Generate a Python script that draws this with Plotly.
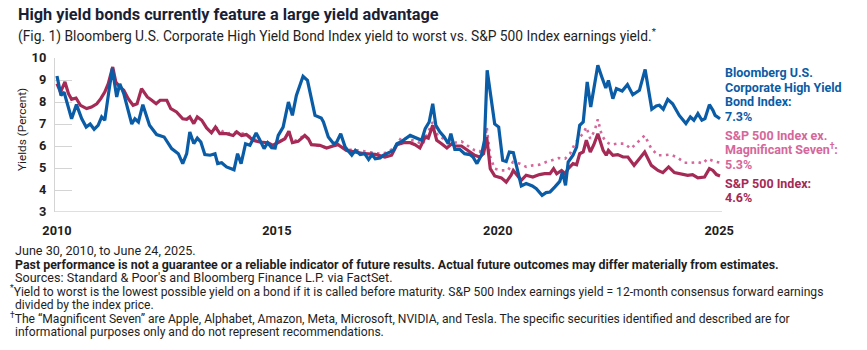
import pandas as pd
import plotly.graph_objects as go

# ---------------- data (decimal years, percent) ----------------
hy_t = [2010.50, 2010.59, 2010.66, 2010.76, 2010.83, 2010.94, 2011.06, 2011.16, 2011.25, 2011.34,
        2011.43, 2011.51, 2011.58, 2011.66, 2011.75, 2011.85, 2011.92, 2012.01, 2012.19, 2012.26,
        2012.34, 2012.44, 2012.59, 2012.75, 2012.92, 2013.09, 2013.24, 2013.34, 2013.43, 2013.50,
        2013.59, 2013.67, 2013.75, 2013.84, 2013.96, 2014.07, 2014.13, 2014.22, 2014.33, 2014.50,
        2014.58, 2014.66, 2014.76, 2014.86, 2015.00, 2015.07, 2015.18, 2015.26, 2015.35, 2015.43,
        2015.50, 2015.61, 2015.73, 2015.82, 2015.91, 2016.06, 2016.16, 2016.33, 2016.47, 2016.52,
        2016.63, 2016.75, 2016.82, 2016.91, 2017.01, 2017.16, 2017.24, 2017.35, 2017.45, 2017.54,
        2017.62, 2017.69, 2017.80, 2017.87, 2017.99, 2018.10, 2018.18, 2018.29, 2018.48, 2018.55,
        2018.66, 2018.74, 2018.82, 2018.91, 2018.99, 2019.06, 2019.15, 2019.25, 2019.34, 2019.40,
        2019.49, 2019.60, 2019.71, 2019.83, 2019.90, 2019.99, 2020.09, 2020.16, 2020.22, 2020.31,
        2020.39, 2020.48, 2020.57, 2020.65, 2020.72, 2020.81, 2020.90, 2020.99, 2021.10, 2021.24,
        2021.33, 2021.46, 2021.55, 2021.64, 2021.75, 2021.86, 2021.92, 2021.99, 2022.05, 2022.16,
        2022.24, 2022.31, 2022.39, 2022.48, 2022.56, 2022.63, 2022.72, 2022.81, 2022.90, 2022.96,
        2023.06, 2023.14, 2023.27, 2023.39, 2023.51, 2023.66, 2023.79, 2023.94, 2024.04, 2024.11,
        2024.20, 2024.30, 2024.41, 2024.56, 2024.71, 2024.81, 2024.89, 2024.98, 2025.07, 2025.14,
        2025.24, 2025.32, 2025.37, 2025.48]
hy_v = [9.18, 8.30, 8.45, 7.77, 7.24, 7.88, 7.24, 6.86, 7.00, 6.76,
        6.94, 7.32, 7.17, 8.30, 9.52, 8.23, 8.83, 8.38, 7.00, 7.24,
        7.09, 7.88, 6.94, 6.52, 6.41, 5.88, 5.65, 5.20, 5.65, 6.64,
        6.11, 6.36, 6.18, 5.61, 5.58, 5.65, 5.20, 5.24, 5.05, 4.92,
        5.65, 5.20, 6.10, 6.03, 6.59, 6.33, 5.88, 6.15, 5.92, 5.91,
        6.48, 6.86, 8.00, 7.39, 8.30, 9.17, 8.98, 7.39, 7.27, 7.09,
        6.41, 6.10, 6.18, 6.56, 5.95, 5.58, 5.80, 5.61, 5.65, 5.39,
        5.61, 5.42, 5.45, 5.58, 5.70, 5.80, 6.10, 6.21, 6.48, 6.41,
        6.30, 6.26, 6.79, 7.09, 7.92, 6.94, 6.64, 6.41, 6.10, 6.56,
        5.85, 5.85, 5.65, 5.61, 5.50, 5.20, 5.58, 6.26, 9.44, 8.15,
        7.00, 6.86, 5.35, 5.30, 5.73, 5.70, 4.89, 4.18, 4.29, 4.18,
        4.06, 3.76, 3.88, 3.91, 4.14, 4.39, 4.82, 4.21, 5.27, 5.58,
        5.95, 6.94, 7.09, 8.91, 7.77, 8.68, 9.67, 9.14, 8.64, 8.98,
        8.15, 8.61, 8.50, 8.79, 8.33, 8.53, 9.48, 7.67, 7.82, 7.85,
        7.67, 8.12, 7.92, 7.39, 7.02, 7.32, 7.17, 7.47, 7.17, 7.24,
        7.88, 7.62, 7.39, 7.24]

sp_t = [2010.50, 2010.58, 2010.68, 2010.76, 2010.83, 2010.93, 2011.03, 2011.17, 2011.28, 2011.40,
        2011.49, 2011.58, 2011.66, 2011.76, 2011.83, 2011.92, 2012.01, 2012.11, 2012.22, 2012.31,
        2012.41, 2012.54, 2012.64, 2012.74, 2012.83, 2012.98, 2013.07, 2013.20, 2013.34, 2013.43,
        2013.50, 2013.59, 2013.67, 2013.77, 2013.88, 2013.99, 2014.08, 2014.18, 2014.33, 2014.48,
        2014.56, 2014.67, 2014.78, 2014.93, 2015.08, 2015.27, 2015.38, 2015.57, 2015.65, 2015.74,
        2015.82, 2015.95, 2016.10, 2016.18, 2016.25, 2016.44, 2016.59, 2016.74, 2016.85, 2017.04,
        2017.23, 2017.45, 2017.69, 2017.91, 2018.06, 2018.18, 2018.33, 2018.48, 2018.59, 2018.70,
        2018.82, 2018.89, 2018.99, 2019.08, 2019.19, 2019.31, 2019.42, 2019.49, 2019.64, 2019.79,
        2019.94, 2020.05, 2020.14, 2020.21, 2020.29, 2020.39, 2020.54, 2020.65, 2020.76, 2020.81,
        2020.89, 2020.99, 2021.10, 2021.25, 2021.40, 2021.52, 2021.64, 2021.72, 2021.79, 2021.90,
        2021.98, 2022.05, 2022.16, 2022.24, 2022.31, 2022.39, 2022.46, 2022.55, 2022.63, 2022.72,
        2022.84, 2022.91, 2022.96, 2023.06, 2023.17, 2023.29, 2023.40, 2023.54, 2023.66, 2023.78,
        2023.93, 2024.08, 2024.19, 2024.32, 2024.45, 2024.60, 2024.75, 2024.86, 2024.98, 2025.13,
        2025.24, 2025.32, 2025.40, 2025.48]
sp_v = [8.83, 8.45, 8.91, 8.38, 8.12, 8.18, 7.85, 7.70, 7.77, 7.92,
        8.15, 8.45, 8.83, 9.59, 8.91, 8.68, 8.53, 8.15, 7.85, 7.92,
        8.61, 8.23, 8.08, 7.92, 8.08, 8.08, 7.70, 7.55, 7.24, 7.21,
        7.32, 7.02, 7.32, 7.17, 6.82, 6.60, 6.86, 6.56, 6.56, 6.48,
        6.64, 6.48, 6.52, 6.26, 6.18, 6.15, 6.03, 6.26, 6.33, 6.67,
        6.15, 6.21, 6.48, 6.33, 6.06, 6.03, 5.91, 6.00, 6.06, 5.80,
        5.73, 5.65, 5.62, 5.50, 5.58, 6.06, 6.15, 6.15, 6.06, 5.91,
        6.41, 6.36, 6.94, 6.26, 6.10, 5.91, 6.10, 6.00, 6.00, 5.80,
        5.58, 5.50, 5.65, 6.41, 4.97, 4.64, 4.55, 4.36, 4.67, 4.89,
        4.67, 4.44, 4.67, 4.59, 4.70, 4.74, 4.74, 4.97, 4.74, 4.89,
        4.74, 4.97, 5.20, 5.15, 5.65, 5.73, 6.26, 5.73, 6.06, 6.56,
        5.80, 5.58, 5.80, 5.58, 5.61, 5.50, 5.50, 5.12, 5.42, 5.73,
        5.12, 4.89, 4.79, 5.05, 4.79, 4.74, 4.67, 4.70, 4.55, 4.59,
        4.97, 4.89, 4.70, 4.64]

ex_t = [2014.08, 2014.33, 2014.56, 2014.78, 2015.08, 2015.38, 2015.65, 2015.74, 2015.82, 2016.10,
        2016.25, 2016.59, 2016.85, 2017.04, 2017.30, 2017.55, 2017.80, 2017.95, 2018.14, 2018.29,
        2018.44, 2018.63, 2018.76, 2018.85, 2018.99, 2019.10, 2019.23, 2019.38, 2019.49, 2019.64,
        2019.79, 2019.94, 2020.05, 2020.16, 2020.21, 2020.29, 2020.39, 2020.54, 2020.69, 2020.80,
        2020.95, 2021.10, 2021.25, 2021.40, 2021.55, 2021.68, 2021.83, 2021.98, 2022.09, 2022.20,
        2022.31, 2022.39, 2022.46, 2022.55, 2022.65, 2022.72, 2022.81, 2022.91, 2023.02, 2023.17,
        2023.32, 2023.47, 2023.62, 2023.78, 2023.93, 2024.08, 2024.23, 2024.35, 2024.50, 2024.68,
        2024.83, 2024.98, 2025.09, 2025.20, 2025.35, 2025.48]
ex_v = [6.86, 6.56, 6.64, 6.52, 6.18, 6.05, 6.33, 6.67, 6.17, 6.49,
        6.08, 5.93, 6.08, 5.84, 5.80, 5.74, 5.65, 5.70, 5.95, 6.41,
        6.30, 6.21, 6.06, 6.48, 7.09, 6.48, 6.33, 6.18, 6.15, 6.21,
        6.00, 5.80, 5.73, 6.03, 6.86, 5.50, 4.97, 4.89, 4.89, 5.27,
        5.20, 5.05, 5.12, 5.15, 5.27, 5.35, 5.45, 5.42, 5.65, 6.10,
        6.41, 6.56, 6.86, 6.33, 6.71, 7.21, 6.48, 6.18, 6.06, 6.11,
        6.11, 5.88, 6.18, 6.48, 5.88, 5.58, 5.58, 5.61, 5.50, 5.24,
        5.24, 5.27, 5.20, 5.42, 5.30, 5.24]

x_tick_vals = [2010.50, 2015.47, 2020.46, 2025.46]
x_tick_text = ["2010", "2015", "2020", "2025"]
y_tick_vals = [3, 4, 5, 6, 7, 8, 9, 10]

BLUE = "#0a5ca6"
RED = "#a52a56"
PINK = "#d6679a"
TXT = "#1e1e1e"


def to_date(y):
    yr = int(y)
    frac = y - yr
    start = pd.Timestamp(year=yr, month=1, day=1)
    end = pd.Timestamp(year=yr + 1, month=1, day=1)
    return start + (end - start) * frac


fig = go.Figure()
fig.add_trace(go.Scatter(x=[to_date(t) for t in ex_t], y=ex_v, mode="lines",
                         line=dict(color=PINK, width=2.6, dash="2.6px,4.4px"), hoverinfo="skip"))
fig.add_trace(go.Scatter(x=[to_date(t) for t in sp_t], y=sp_v, mode="lines",
                         line=dict(color=RED, width=3.2), hoverinfo="skip"))
fig.add_trace(go.Scatter(x=[to_date(t) for t in hy_t], y=hy_v, mode="lines",
                         line=dict(color=BLUE, width=3.2), hoverinfo="skip"))

# plot area in pixels
L, R, T, B = 55, 722, 58, 212
W, H = 867, 350


def px(x):
    return (x - L) / (R - L)


def py(y):
    return (B - y) / (B - T)


ann = []
ann.append(dict(text="<b>High yield bonds currently feature a large yield advantage</b>",
                x=px(16), y=py(15), font=dict(size=16.3, color="#1a1f36", family="Roboto")))
ann.append(dict(text="(Fig. 1) Bloomberg U.S. Corporate High Yield Bond Index yield to worst vs. S&P 500 Index earnings yield.<sup>*</sup>",
                x=px(16), y=py(35), font=dict(size=13.8, color=TXT, family="Roboto")))
ann.append(dict(text="Yields (Percent)", x=px(22), y=py(130), textangle=-90, xanchor="center",
                font=dict(size=11.8, color=TXT, family="Roboto")))

right_labels = [
    ("Bloomberg U.S.", 72, BLUE), ("Corporate High Yield", 87, BLUE), ("Bond Index:", 101, BLUE),
    ("7.3%", 116, BLUE),
    ("S&P 500 Index ex.", 135, PINK), ("Magnificant Seven<sup>†</sup>:", 149, PINK), ("5.3%", 164, PINK),
    ("S&P 500 Index:", 183, RED), ("4.6%", 197, RED),
]
for txt, yy, col in right_labels:
    ann.append(dict(text="<b>" + txt + "</b>", x=px(723), y=py(yy),
                    font=dict(size=12.5, color=col, family="Roboto")))

FOOT = "Roboto"
foot = [
    ("June 30, 2010, to June 24, 2025.", 13, 250.5, 12.6),
    ("<b>Past performance is not a guarantee or a reliable indicator of future results. Actual future outcomes may differ materially from estimates.</b>", 13, 264, 12.4),
    ("Sources: Standard & Poor's and Bloomberg Finance L.P. via FactSet.", 13, 277.5, 12.6),
    ("<sup>*</sup>Yield to worst is the lowest possible yield on a bond if it is called before maturity. S&P 500 Index earnings yield = 12-month consensus forward earnings", 8, 291, 12.1),
    ("divided by the index price.", 13, 304.5, 12.1),
    ("<sup>†</sup>The \u201cMagnificent Seven\u201d are Apple, Alphabet, Amazon, Meta, Microsoft, NVIDIA, and Tesla. The specific securities identified and described are for", 8, 318, 12.1),
    ("informational purposes only and do not represent recommendations.", 13, 331.5, 12.1),
]
for txt, xx, yy, fs in foot:
    ann.append(dict(text=txt, x=px(xx), y=py(yy), font=dict(size=fs, color=TXT, family=FOOT)))

for a in ann:
    a.setdefault("xanchor", "left")
    a.update(xref="paper", yref="paper", yanchor="middle", showarrow=False)

fig.update_layout(
    width=W, height=H,
    margin=dict(l=L, r=W - R, t=T, b=H - B, pad=0),
    paper_bgcolor="white", plot_bgcolor="white",
    showlegend=False,
    annotations=ann,
    xaxis=dict(type="date", range=[to_date(2010.455), to_date(2025.525)],
               tickvals=[to_date(t) for t in x_tick_vals], ticktext=x_tick_text,
               showgrid=False, zeroline=False, showline=False, ticks="",
               ticklabelstandoff=9,
               tickfont=dict(size=12.8, color=TXT, family="Roboto", weight="bold")),
    yaxis=dict(range=[3, 10], tickvals=y_tick_vals, showgrid=False, zeroline=False,
               showline=True, linecolor="#d4d4d4", linewidth=1.3,
               ticks="inside", ticklen=17, tickcolor="#d4d4d4", tickwidth=1.3,
               layer="below traces", ticklabelstandoff=5,
               tickfont=dict(size=12.8, color=TXT, family="Roboto", weight="bold")),
)
# bottom baseline across plot
fig.add_shape(type="line", xref="paper", yref="y", x0=0, x1=1, y0=3, y1=3,
              line=dict(color="#d4d4d4", width=1.3), layer="below")

fig.write_html("out.html")
